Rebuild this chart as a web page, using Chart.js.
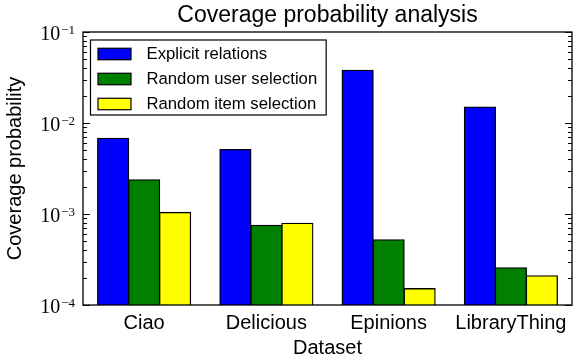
<!DOCTYPE html>
<html>
<head>
<meta charset="utf-8">
<script src="https://cdn.jsdelivr.net/npm/chart.js@4/dist/chart.umd.min.js"></script>
<style>
  html, body { margin: 0; padding: 0; background: #ffffff; }
  #wrap { width: 573px; height: 362px; }
</style>
</head>
<body>
<div id="wrap"><canvas id="chart" width="573" height="362"></canvas></div>
<script>
// Datasets and their coverage probabilities (log scale)
const categories = ['Ciao', 'Delicious', 'Epinions', 'LibraryThing'];
const seriesNames = ['Explicit relations', 'Random user selection', 'Random item selection'];
const explicitRelations = [6.8e-3, 5.1e-3, 3.8e-2, 1.5e-2];
const randomUserSelection = [2.37e-3, 7.5e-4, 5.2e-4, 2.56e-4];
const randomItemSelection = [1.04e-3, 7.9e-4, 1.51e-4, 2.09e-4];
const seriesColors = ['#0000ff', '#008000', '#ffff00'];
const yTickExponents = [-4, -3, -2, -1];

const SANS = '"Liberation Sans", Arial, Helvetica, sans-serif';
const SERIF = '"Liberation Serif", "Times New Roman", serif';

// Frame, inward log ticks and mathtext-style tick labels
const axesDecor = {
  id: 'axesDecor',
  afterDatasetsDraw(chart) {
    const ctx = chart.ctx;
    const a = chart.chartArea;
    const y = chart.scales.y;
    ctx.save();
    ctx.strokeStyle = '#000000';
    ctx.lineWidth = 1;
    const lo = yTickExponents[0], hi = yTickExponents[yTickExponents.length - 1];
    for (let e = lo; e <= hi; e++) {
      for (let m = 1; m <= 9; m++) {
        const v = m * Math.pow(10, e);
        if (e === hi && m > 1) break;
        const py = Math.round(y.getPixelForValue(v)) + 0.5;
        const len = m === 1 ? 7 : 4;
        ctx.beginPath();
        ctx.moveTo(a.left, py); ctx.lineTo(a.left + len, py);
        ctx.moveTo(a.right, py); ctx.lineTo(a.right - len, py);
        ctx.stroke();
      }
    }
    ctx.lineWidth = 1.3;
    ctx.strokeRect(a.left, a.top, a.right - a.left, a.bottom - a.top);

    // tick labels: 10 with a raised exponent
    ctx.fillStyle = '#000000';
    ctx.textBaseline = 'alphabetic';
    yTickExponents.forEach(e => {
      const py = y.getPixelForValue(Math.pow(10, e));
      const base = '10';
      const sup = '\u2212' + Math.abs(e);
      ctx.font = '13px ' + SERIF;
      const wSup = ctx.measureText(sup).width;
      ctx.font = '20px ' + SERIF;
      const wBase = ctx.measureText(base).width;
      const right = a.left - 8;
      ctx.fillText(base, right - wSup - 1 - wBase, py + 7.5);
      ctx.font = '13px ' + SERIF;
      ctx.fillText(sup, right - wSup, py + 2);
    });
    ctx.restore();
  }
};

// Framed legend in the upper left of the plot area
const boxedLegend = {
  id: 'boxedLegend',
  afterDraw(chart) {
    const ctx = chart.ctx;
    const a = chart.chartArea;
    const ds = chart.data.datasets;
    ctx.save();
    ctx.font = '16.7px ' + SANS;
    let maxW = 0;
    ds.forEach(d => { maxW = Math.max(maxW, ctx.measureText(d.label).width); });
    const bx = a.left + 7.5, by = a.top + 8;
    const patchX = bx + 7.5, patchW = 33, patchH = 11.5;
    const textX = patchX + patchW + 15.5;
    const rowH = 25;
    const bw = textX + maxW + 9 - bx, bh = 75;
    ctx.fillStyle = '#ffffff';
    ctx.fillRect(bx, by, bw, bh);
    ctx.strokeStyle = '#000000';
    ctx.lineWidth = 1.2;
    ctx.strokeRect(bx, by, bw, bh);
    ds.forEach((d, i) => {
      const cy = by + 14 + i * rowH;
      ctx.fillStyle = d.backgroundColor;
      ctx.fillRect(patchX, cy - patchH / 2, patchW, patchH);
      ctx.lineWidth = 1.2;
      ctx.strokeRect(patchX, cy - patchH / 2, patchW, patchH);
      ctx.fillStyle = '#000000';
      ctx.textBaseline = 'middle';
      ctx.fillText(d.label, textX, cy + 0.5);
    });
    ctx.restore();
  }
};

const seriesValues = [explicitRelations, randomUserSelection, randomItemSelection];
const datasets = seriesValues.map((vals, i) => ({
  label: seriesNames[i],
  data: vals,
  backgroundColor: seriesColors[i],
  borderColor: '#000000',
  borderWidth: 1.3,
  borderSkipped: 'start',
  inflateAmount: 0.6,
  categoryPercentage: 0.76,
  barPercentage: 1.0
}));

new Chart(document.getElementById('chart'), {
  type: 'bar',
  data: { labels: categories, datasets },
  options: {
    responsive: false,
    animation: false,
    layout: { padding: { top: 0, right: 1, bottom: 0, left: 0 } },
    plugins: {
      legend: { display: false },
      tooltip: { enabled: false },
      title: {
        display: true,
        text: 'Coverage probability analysis',
        fullSize: false,
        color: '#000000',
        font: { family: SANS, size: 23, weight: 'normal' },
        padding: { top: 2, bottom: 2.4 }
      }
    },
    scales: {
      x: {
        grid: { display: false, drawTicks: false },
        border: { display: false },
        ticks: { color: '#000000', font: { family: SANS, size: 20 }, padding: 6 },
        title: {
          display: true, text: 'Dataset', color: '#000000',
          font: { family: SANS, size: 20 }, padding: { top: 0, bottom: 2 }
        },
        afterFit(scale) { scale.height = 57; }
      },
      y: {
        type: 'logarithmic',
        min: 1e-4,
        max: 1e-1,
        grid: { display: false, drawTicks: false },
        border: { display: false },
        ticks: { display: false },
        title: {
          display: true, text: 'Coverage probability', color: '#000000',
          font: { family: SANS, size: 20 }, padding: { top: 3, bottom: 0 }
        },
        afterFit(scale) { scale.width = 83; }
      }
    }
  },
  plugins: [axesDecor, boxedLegend]
});
</script>
</body>
</html>
